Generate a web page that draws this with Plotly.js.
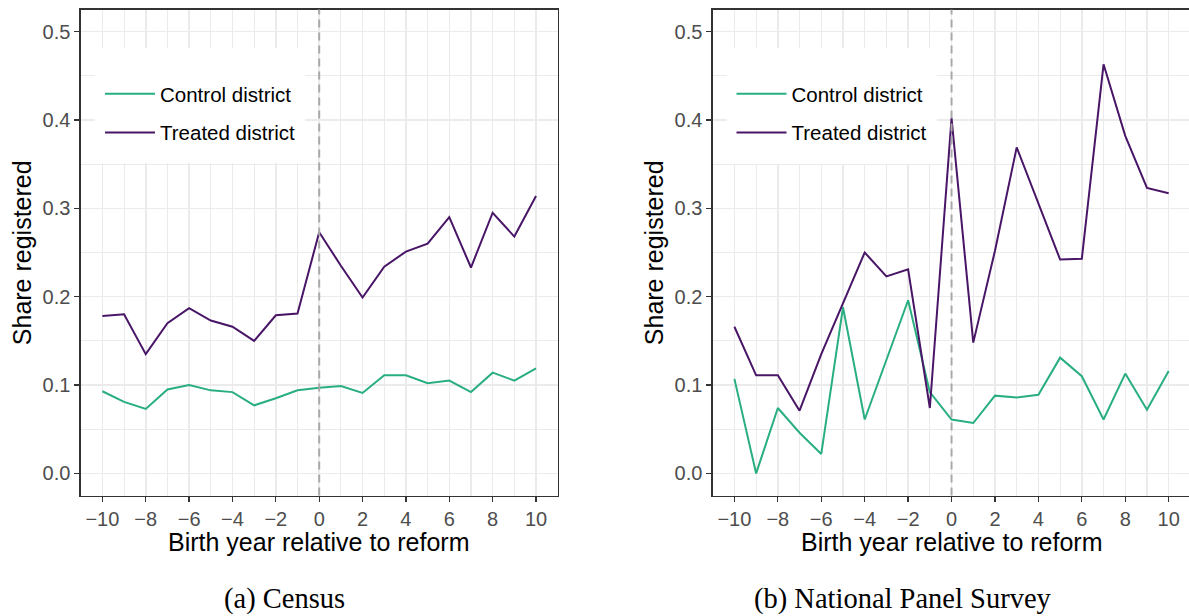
<!DOCTYPE html>
<html>
<head>
<meta charset="utf-8">
<script src="https://cdn.plot.ly/plotly-3.0.1.min.js"></script>
<style>
  html, body { margin: 0; padding: 0; background: #ffffff; overflow: hidden; }
  #chart { width: 1191px; height: 616px; }
</style>
</head>
<body>
<div id="chart"></div>
<script>
// ---------------- data ----------------
const birthYear = [-10, -9, -8, -7, -6, -5, -4, -3, -2, -1, 0, 1, 2, 3, 4, 5, 6, 7, 8, 9, 10];

const censusControl = [0.093, 0.081, 0.073, 0.095, 0.100, 0.094, 0.092, 0.077, 0.085, 0.094, 0.097,
                       0.099, 0.091, 0.111, 0.111, 0.102, 0.105, 0.092, 0.114, 0.105, 0.119];
const censusTreated = [0.178, 0.180, 0.135, 0.170, 0.187, 0.173, 0.166, 0.150, 0.179, 0.181, 0.273,
                       0.235, 0.199, 0.234, 0.251, 0.260, 0.290, 0.233, 0.295, 0.268, 0.314];

const panelControl = [0.107, 0.000, 0.074, 0.046, 0.022, 0.188, 0.061, 0.129, 0.196, 0.092, 0.061,
                      0.057, 0.088, 0.086, 0.089, 0.131, 0.110, 0.061, 0.113, 0.072, 0.116];
const panelTreated = [0.166, 0.111, 0.111, 0.071, 0.135, 0.192, 0.250, 0.223, 0.231, 0.074, 0.402,
                      0.148, 0.252, 0.369, 0.305, 0.242, 0.243, 0.463, 0.382, 0.323, 0.317];

const seriesNames = ['Control district', 'Treated district'];
const xTickVals = [-10, -8, -6, -4, -2, 0, 2, 4, 6, 8, 10];
const yTickVals = [0, 0.1, 0.2, 0.3, 0.4, 0.5];
const reformYear = 0;
const captions = ['(a) Census', '(b) National Panel Survey'];
const xTitle = 'Birth year relative to reform';
const yTitle = 'Share registered';

// ---------------- styling ----------------
const W = 1191, H = 616;
const fx = p => p / W;
const fy = p => 1 - p / H;
const colControl = '#29AF7F';
const colTreated = '#481567';
const sans = 'Liberation Sans, Arial, Helvetica, sans-serif';
const serif = 'Liberation Serif, Times New Roman, serif';

const leftDom = [fx(80.7), fx(557.7)];
const rightDom = [fx(712.7), fx(1190.4)];
const yDom = [fy(495.5), fy(9.5)];

function xaxisDef(dom, anchor) {
  return {
    domain: dom, anchor: anchor, range: [-11, 11],
    tickvals: xTickVals, ticks: 'outside', ticklen: 5, tickwidth: 1.3, tickcolor: '#333333',
    tickfont: {family: sans, size: 20, color: '#4d4d4d'},
    showgrid: true, gridcolor: '#ebebeb', gridwidth: 1.5,
    minor: {dtick: 1, tick0: 0, showgrid: true, gridcolor: '#ebebeb', gridwidth: 1.1, ticks: ''},
    showline: true, mirror: true, linecolor: '#333333', linewidth: 1.3,
    zeroline: false, fixedrange: true
  };
}
function yaxisDef(anchor) {
  return {
    domain: yDom, anchor: anchor, range: [-0.025, 0.525],
    tickvals: yTickVals, ticktext: yTickVals.map(v => v.toFixed(1)),
    ticks: 'outside', ticklen: 5, tickwidth: 1.3, tickcolor: '#333333',
    tickfont: {family: sans, size: 20, color: '#4d4d4d'},
    showgrid: true, gridcolor: '#ebebeb', gridwidth: 1.5,
    minor: {dtick: 0.05, tick0: 0, showgrid: true, gridcolor: '#ebebeb', gridwidth: 1.1, ticks: ''},
    showline: true, mirror: true, linecolor: '#333333', linewidth: 1.3,
    zeroline: false, fixedrange: true
  };
}

function lineTrace(xs, ys, name, color, xa, ya, legendId) {
  return {
    type: 'scatter', mode: 'lines', x: xs, y: ys, name: name,
    line: {color: color, width: 2},
    xaxis: xa, yaxis: ya, legend: legendId, legendgroup: legendId + name,
    hoverinfo: 'skip'
  };
}

const traces = [
  lineTrace(birthYear, censusControl, seriesNames[0], colControl, 'x', 'y', 'legend'),
  lineTrace(birthYear, censusTreated, seriesNames[1], colTreated, 'x', 'y', 'legend'),
  lineTrace(birthYear, panelControl, seriesNames[0], colControl, 'x2', 'y2', 'legend2'),
  lineTrace(birthYear, panelTreated, seriesNames[1], colTreated, 'x2', 'y2', 'legend2')
];

function legendDef(xpx) {
  return {
    x: fx(xpx), y: fy(74), xanchor: 'left', yanchor: 'top',
    bgcolor: 'rgba(0,0,0,0)', borderwidth: 0,
    font: {family: sans, size: 20.5, color: '#000000'},
    itemwidth: 50, tracegroupgap: 9, traceorder: 'grouped',
    itemclick: false, itemdoubleclick: false
  };
}

function boxShape(xa, ya, x0, x1, y0, y1) {
  return {type: 'rect', xref: xa + ' domain', yref: ya + ' domain', x0: x0, x1: x1, y0: y0, y1: y1,
          fillcolor: '#ffffff', line: {width: 0}, layer: 'above'};
}
function reformLine(xa, ya) {
  return {type: 'line', xref: xa, yref: ya + ' domain', x0: reformYear, x1: reformYear, y0: 0, y1: 1,
          line: {color: '#a9a9a9', width: 2, dash: '8px,5px'}, layer: 'above'};
}

const shapes = [
  boxShape('x', 'y', 0.030, 0.470, 0.684, 0.921),
  boxShape('x2', 'y2', 0.029, 0.469, 0.682, 0.921),
  reformLine('x', 'y'),
  reformLine('x2', 'y2')
];

const annotations = [
  {text: xTitle, xref: 'paper', yref: 'paper', x: (leftDom[0] + leftDom[1]) / 2, y: fy(541.7),
   xanchor: 'center', yanchor: 'middle', showarrow: false, font: {family: sans, size: 25, color: '#000'}},
  {text: xTitle, xref: 'paper', yref: 'paper', x: (rightDom[0] + rightDom[1]) / 2, y: fy(541.7),
   xanchor: 'center', yanchor: 'middle', showarrow: false, font: {family: sans, size: 25, color: '#000'}},
  {text: yTitle, xref: 'paper', yref: 'paper', x: fx(21.7), y: fy(252.5), textangle: -90,
   xanchor: 'center', yanchor: 'middle', showarrow: false, font: {family: sans, size: 25, color: '#000'}},
  {text: yTitle, xref: 'paper', yref: 'paper', x: fx(653.7), y: fy(252.5), textangle: -90,
   xanchor: 'center', yanchor: 'middle', showarrow: false, font: {family: sans, size: 25, color: '#000'}},
  {text: captions[0], xref: 'paper', yref: 'paper', x: fx(284), y: fy(599),
   xanchor: 'center', yanchor: 'middle', showarrow: false, font: {family: serif, size: 28.5, color: '#000'}},
  {text: captions[1], xref: 'paper', yref: 'paper', x: fx(903), y: fy(599),
   xanchor: 'center', yanchor: 'middle', showarrow: false, font: {family: serif, size: 28.5, color: '#000'}}
];

const layout = {
  width: W, height: H,
  margin: {l: 0, r: 0, t: 0, b: 0, pad: 0},
  paper_bgcolor: '#ffffff', plot_bgcolor: '#ffffff',
  showlegend: true,
  xaxis: xaxisDef(leftDom, 'y'),
  yaxis: yaxisDef('x'),
  xaxis2: xaxisDef(rightDom, 'y2'),
  yaxis2: yaxisDef('x2'),
  legend: legendDef(100),
  legend2: legendDef(731.5),
  shapes: shapes,
  annotations: annotations
};

Plotly.newPlot('chart', traces, layout, {displayModeBar: false, staticPlot: true});
</script>
</body>
</html>
